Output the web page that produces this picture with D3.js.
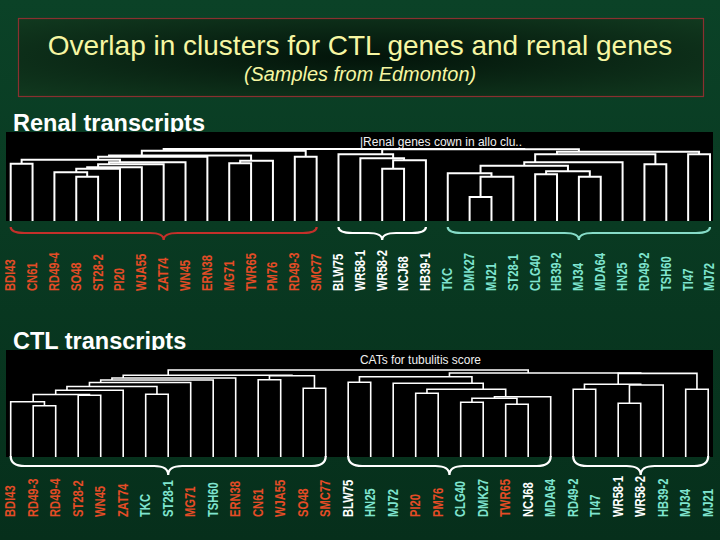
<!DOCTYPE html>
<html>
<head>
  <meta charset="utf-8">
  <style>
    body { margin: 0; background: #0a3d24; }
    svg { display: block; }
    text { font-family: "Liberation Sans", Arial, Helvetica, sans-serif; }
  </style>
</head>
<body>
  <div id="chart"></div>
  <script src="https://cdn.jsdelivr.net/npm/d3@7"></script>
  <script>

    // DATA
    var renalLabels = ["BDI43", "CN61", "RD49-4", "SO48", "ST28-2", "PI20", "WJA55", "ZAT74", "WN45",
      "ERN38", "MG71", "TWR65", "PM76", "RD49-3", "SMC77", "BLW75", "WR58-1", "WR58-2", "NCJ68",
      "HB39-1", "TKC", "DMK27", "MJ21", "ST28-1", "CLG40", "HB39-2", "MJ34", "MDA64", "HN25",
      "RD49-2", "TSH60", "TI47", "MJ72"];
    var renalGroups = ["R", "R", "R", "R", "R", "R", "R", "R", "R", "R", "R", "R", "R", "R", "R",
      "W", "W", "W", "W", "W",
      "C", "C", "C", "C", "C", "C", "C", "C", "C", "C", "C", "C", "C"];

    var ctlLabels = ["BDI43", "RD49-3", "RD49-4", "ST28-2", "WN45", "ZAT74", "TKC", "ST28-1", "MG71",
      "TSH60", "ERN38", "CN61", "WJA55", "SO48", "SMC77", "BLW75", "HN25", "MJ72", "PI20", "PM76",
      "CLG40", "DMK27", "TWR65", "NCJ68", "MDA64", "RD49-2", "TI47", "WR58-1", "WR58-2", "HB39-2",
      "MJ34", "MJ21"];
    var ctlGroups = ["R", "R", "R", "R", "R", "R", "C", "C", "R", "C", "R", "R", "R", "R", "R",
      "W", "C", "C", "R", "R", "C", "C", "R", "W", "C", "C", "C", "W", "W", "C", "C", "C"];

    // merges: [id, left, right, height]; numbers are leaf indexes
    var renalMerges = [
      ["a0", 0, 1, 57.3],
      ["a1", 3, 4, 44.3],
      ["a2", 2, "a1", 48.7],
      ["a3", "a2", 5, 52.3],
      ["a4", "a3", 6, 53.7],
      ["a5", "a4", 7, 56.7],
      ["a6", "a5", 8, 58.7],
      ["a7", "a0", "a6", 61.3],
      ["a8", "a7", 9, 64.3],
      ["a9", 10, 11, 57.7],
      ["a10", "a9", 12, 60.3],
      ["a11", "a8", "a10", 65.5],
      ["a12", 13, 14, 64.3],
      ["a13", "a11", "a12", 70.3],
      ["b0", 17, 18, 52.3],
      ["b1", "b0", 19, 60.7],
      ["b2", 16, "b1", 62.7],
      ["b3", 15, "b2", 66.7],
      ["c0", 24, 25, 46.7],
      ["c1", 26, 27, 44.3],
      ["c2", "c0", "c1", 49.7],
      ["c3", 21, 22, 24],
      ["c4", "c3", 23, 44.3],
      ["c5", 20, "c4", 47.7],
      ["c6", "c5", "c2", 55.3],
      ["c7", "c6", 28, 58.7],
      ["c8", 29, 30, 56.7],
      ["c9", "c7", "c8", 66.7],
      ["c10", 31, 32, 66.7],
      ["c11", "c9", "c10", 69.3],
      ["d0", "b3", "c11", 71.7],
      ["root", "a13", "d0", 72.1]
    ];

    var ctlMerges = [
      ["g1", 1, 2, 51.3],
      ["g2", 0, "g1", 55.3],
      ["g3", 3, 4, 61.7],
      ["g4", "g2", "g3", 62.5],
      ["g5", "g4", 5, 66.7],
      ["g6", 6, 7, 62.7],
      ["g7", "g5", "g6", 70.5],
      ["g8", "g7", 8, 74.5],
      ["g9", "g8", 9, 77],
      ["g10", "g9", 10, 79],
      ["g11", 11, 12, 77.3],
      ["g12", 13, 14, 68.7],
      ["g13", "g11", "g12", 81.3],
      ["g14", "g10", "g13", 81.7],
      ["h0", 15, 16, 74.7],
      ["h1", 20, 21, 54.7],
      ["h2", 22, 23, 52.7],
      ["h3", "h1", "h2", 58.7],
      ["h4", "h3", 24, 60.3],
      ["h5", 18, 19, 63.7],
      ["h6", "h5", "h4", 67.7],
      ["h7", 17, "h6", 73.7],
      ["h8", "h0", "h7", 80.3],
      ["i1", 25, 26, 67.7],
      ["i2", 27, 28, 53.7],
      ["i3", "i2", 29, 72],
      ["i4", "i1", "i3", 72.7],
      ["i5", 30, 31, 67.7],
      ["i6", "i4", "i5", 83.6],
      ["j1", "h8", "i6", 84],
      ["root", "g14", "j1", 87]
    ];

    // leaf ranges under each brace: [first, last, group]
    var renalBraces = [[0, 14, "R"], [15, 19, "W"], [20, 32, "C"]];
    var ctlBraces = [[0, 14, "W"], [15, 24, "W"], [25, 31, "W"]];

    var labelColor = { R: "#e44c26", W: "#ffffff", C: "#7fe4cf" };
    var braceColor = { R: "#c3302a", W: "#ffffff", C: "#86dcc8" };

    // LAYOUT
    var width = 720;
    var height = 540;

    var svg = d3.select("#chart")
      .append("svg")
        .attr("width", width)
        .attr("height", height);

    var defs = svg.append("defs");

    var bg = defs.append("linearGradient")
      .attr("id", "bg").attr("x1", 0).attr("y1", 0).attr("x2", 0).attr("y2", 1);
    bg.append("stop").attr("offset", 0).attr("stop-color", "#0b4227");
    bg.append("stop").attr("offset", 1).attr("stop-color", "#062f1b");

    var box = defs.append("radialGradient")
      .attr("id", "box").attr("cx", 0.5).attr("cy", 0.5).attr("r", 0.7);
    box.append("stop").attr("offset", 0).attr("stop-color", "#03140a");
    box.append("stop").attr("offset", 1).attr("stop-color", "#11391f");

    svg.append("rect")
      .attr("width", width).attr("height", height)
      .attr("fill", "url(#bg)");

    // title
    svg.append("rect")
      .attr("x", 18.5).attr("y", 18.5)
      .attr("width", 685).attr("height", 78)
      .attr("fill", "url(#box)")
      .attr("stroke", "#8a3030")
      .attr("stroke-width", 1.2);

    svg.append("text")
      .attr("x", 360).attr("y", 55)
      .attr("text-anchor", "middle")
      .attr("font-size", 28)
      .attr("fill", "#f6f6a2")
      .text("Overlap in clusters for CTL genes and renal genes");

    svg.append("text")
      .attr("x", 360).attr("y", 81)
      .attr("text-anchor", "middle")
      .attr("font-size", 19.9)
      .attr("font-style", "italic")
      .attr("fill", "#f6f6a2")
      .text("(Samples from Edmonton)");

    function drawPanel(opts) {

      var { labels, groups, merges, braces, top, bottom, maxH, first, last,
            title, note, noteLen, labelBase, braceTop, braceMid, bracePeak, lineW } = opts;

      svg.append("text")
        .attr("x", 13).attr("y", top - 1)
        .attr("font-size", 23.5)
        .attr("font-weight", "bold")
        .attr("fill", "#ffffff")
        .text(title);

      svg.append("rect")
        .attr("x", 6).attr("y", top)
        .attr("width", 707).attr("height", bottom - top)
        .attr("fill", "#000000");

      var x = d3.scalePoint()
        .domain(d3.range(labels.length))
        .range([first, last]);

      var y = d3.scaleLinear()
        .domain([0, maxH])
        .range([bottom, top]);

      var nodes = new Map();

      function info(c) {
        if (typeof c === "number") {
          return { leaves: [c], h: 0 };
        }
        return nodes.get(c);
      }

      var links = merges.map(function(m) {
        var l = info(m[1]);
        var r = info(m[2]);
        var node = { leaves: l.leaves.concat(r.leaves), h: m[3] };
        nodes.set(m[0], node);
        return {
          xl: d3.mean(l.leaves, x), hl: l.h,
          xr: d3.mean(r.leaves, x), hr: r.h,
          h: m[3]
        };
      });

      svg.append("g")
        .selectAll("path")
        .data(links)
        .enter()
          .append("path")
            .attr("fill", "none")
            .attr("stroke", "#ffffff")
            .attr("stroke-width", lineW)
            .attr("d", function(d) {
              return "M" + d.xl + "," + y(d.hl) +
                "V" + y(d.h) + "H" + d.xr + "V" + y(d.hr);
            });

      svg.append("text")
        .attr("x", 360).attr("y", top + 14)
        .attr("font-size", 12)
        .attr("fill", "#f0f0f0")
        .attr("textLength", noteLen)
        .attr("lengthAdjust", "spacingAndGlyphs")
        .text(note);

      // braces
      svg.append("g")
        .selectAll("path")
        .data(braces)
        .enter()
          .append("path")
            .attr("fill", "none")
            .attr("stroke", function(d) { return braceColor[d[2]]; })
            .attr("stroke-width", 2.2)
            .attr("d", function(d) {
              var x0 = x(d[0]), x1 = x(d[1]), xm = (x0 + x1) / 2;
              var r = 14;
              return "M" + x0 + "," + braceTop +
                "Q" + x0 + "," + braceMid + " " + (x0 + r) + "," + braceMid +
                "L" + (xm - r) + "," + braceMid +
                "Q" + xm + "," + braceMid + " " + xm + "," + bracePeak +
                "Q" + xm + "," + braceMid + " " + (xm + r) + "," + braceMid +
                "L" + (x1 - r) + "," + braceMid +
                "Q" + x1 + "," + braceMid + " " + x1 + "," + braceTop;
            });

      svg.append("g")
        .selectAll("text")
        .data(labels)
        .enter()
          .append("text")
            .attr("transform", function(d, i) {
              return "translate(" + x(i) + "," + labelBase + ") rotate(-90) scale(0.8,1)";
            })
            .attr("dominant-baseline", "central")
            .attr("font-size", 14)
            .attr("font-weight", "bold")
            .attr("fill", function(d, i) { return labelColor[groups[i]]; })
            .text(function(d) { return d; });
    }

    drawPanel({
      labels: renalLabels, groups: renalGroups, merges: renalMerges, braces: renalBraces,
      top: 132, bottom: 221, maxH: 89, first: 10.7, last: 710,
      title: "Renal transcripts", note: "|Renal genes cown in allo clu..", noteLen: 162,
      labelBase: 291, braceTop: 227, braceMid: 233, bracePeak: 240, lineW: 2
    });

    drawPanel({
      labels: ctlLabels, groups: ctlGroups, merges: ctlMerges, braces: ctlBraces,
      top: 350, bottom: 457, maxH: 107, first: 10.7, last: 708.2,
      title: "CTL transcripts", note: "CATs for tubulitis score", noteLen: 121,
      labelBase: 517, braceTop: 456, braceMid: 466, bracePeak: 475, lineW: 1.6
    });

  </script>
</body>
</html>
